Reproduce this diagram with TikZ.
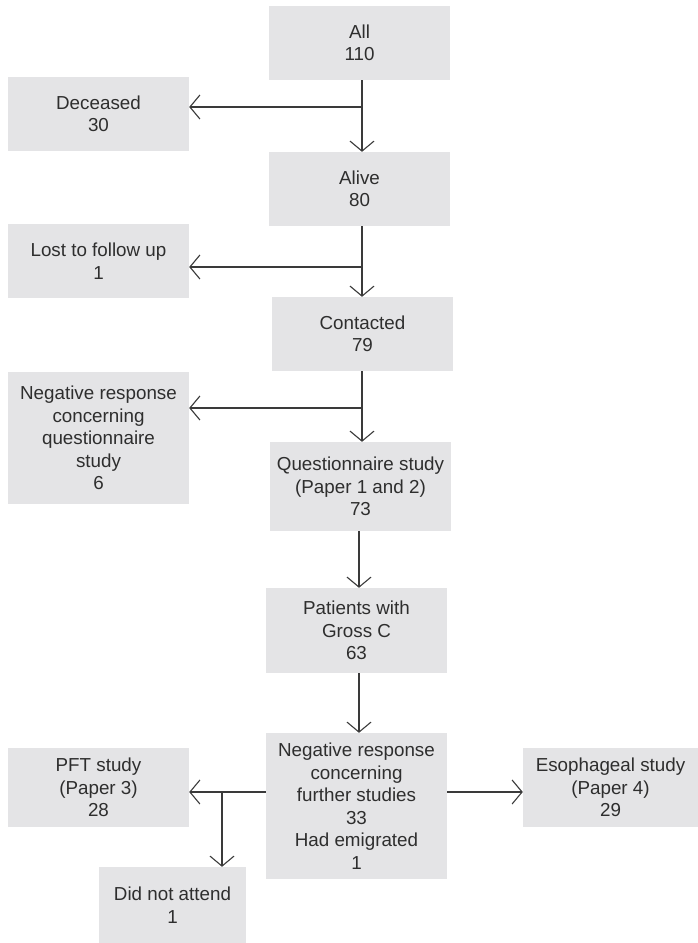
\documentclass[tikz,border=0pt]{standalone}
\usepackage{fontspec}
\setmainfont{Liberation Sans}
\usetikzlibrary{arrows.meta}
\definecolor{boxfill}{HTML}{E4E4E6}
\definecolor{txt}{HTML}{2E2E2E}
\definecolor{ln}{HTML}{3A3A3A}
\tikzset{
  boxnode/.style={fill=boxfill, draw=none, inner sep=0pt, align=center, text=txt,
    font=\fontsize{18.8}{22.5}\selectfont},
  conn/.style={draw=ln, line width=1.1pt},
  arr/.style={conn, -{Straight Barb[length=10pt,width=24pt]}}
}
\begin{document}
\begin{tikzpicture}[x=1pt,y=-1pt]
\useasboundingbox (0,0) rectangle (698,943);
% boxes: center x, center y, width, height
\node[boxnode, minimum width=181pt, minimum height=74pt] (all) at (359.5,43) {All\\110};
\node[boxnode, minimum width=181pt, minimum height=74pt] (dec) at (98.5,114) {Deceased\\30};
\node[boxnode, minimum width=181pt, minimum height=74pt] (alive) at (359.5,189) {Alive\\80};
\node[boxnode, minimum width=181pt, minimum height=74pt] (lost) at (98.5,261) {Lost to follow up\\1};
\node[boxnode, minimum width=181pt, minimum height=74pt] (cont) at (362.5,334) {Contacted\\79};
\node[boxnode, minimum width=181pt, minimum height=132pt] (negq) at (98.5,438) {Negative response\\concerning\\questionnaire\\study\\6};
\node[boxnode, minimum width=181pt, minimum height=89pt] (quest) at (360.5,486.5) {Questionnaire study\\(Paper 1 and 2)\\73};
\node[boxnode, minimum width=181pt, minimum height=85pt] (pat) at (356.5,630.5) {Patients with\\Gross C\\63};
\node[boxnode, minimum width=181pt, minimum height=146pt] (negf) at (356.5,806) {Negative response\\concerning\\further studies\\33\\Had emigrated\\1};
\node[boxnode, minimum width=181pt, minimum height=79pt] (pft) at (98.5,787.5) {PFT study\\(Paper 3)\\28};
\node[boxnode, minimum width=175pt, minimum height=79pt] (eso) at (610.5,787.5) {Esophageal study\\(Paper 4)\\29};
\node[boxnode, minimum width=147pt, minimum height=76pt] (dna) at (172.5,905) {Did not attend\\1};
% junction coordinates
\coordinate (j1) at (362,107);
\coordinate (j2) at (362,267);
\coordinate (j3) at (362,408);
\coordinate (j4) at (222,792);
% connectors
\draw[conn] (all.south -| j1) -- (j1);
\draw[arr] (j1) -- (alive.north -| j1);
\draw[arr] (j1) -- (dec.east |- j1);
\draw[conn] (alive.south -| j2) -- (j2);
\draw[arr] (j2) -- (cont.north -| j2);
\draw[arr] (j2) -- (lost.east |- j2);
\draw[conn] (cont.south -| j3) -- (j3);
\draw[arr] (j3) -- (quest.north -| j3);
\draw[arr] (j3) -- (negq.east |- j3);
\draw[arr] ([xshift=-1.5pt]quest.south) -- ([xshift=2.5pt]pat.north);
\draw[arr] ([xshift=2.5pt]pat.south) -- ([xshift=2.5pt]negf.north);
\draw[arr] (negf.west |- j4) -- (pft.east |- j4);
\draw[arr] (j4) -- (dna.north -| j4);
\draw[arr] (negf.east |- j4) -- (eso.west |- j4);
\end{tikzpicture}
\end{document}
